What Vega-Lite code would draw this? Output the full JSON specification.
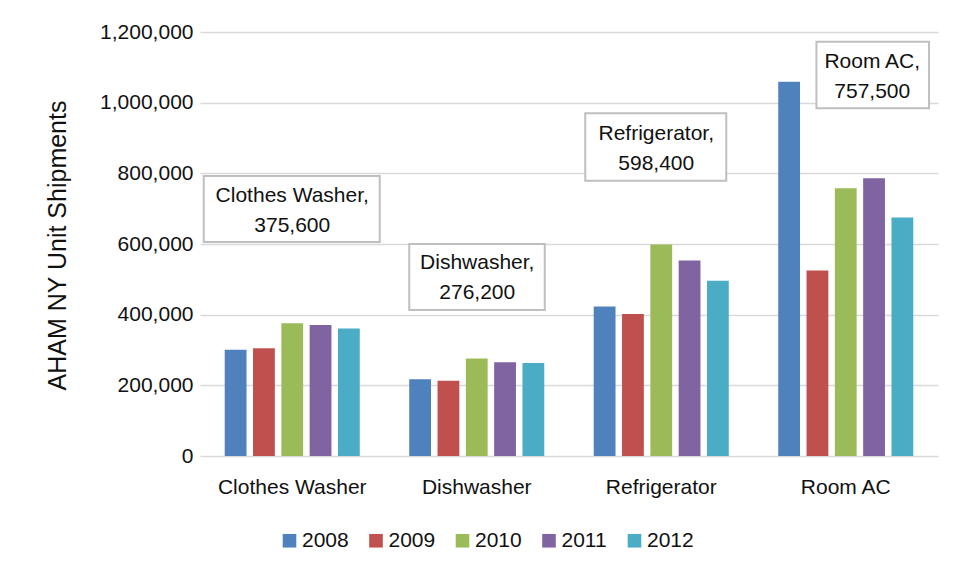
{
  "$schema": "https://vega.github.io/schema/vega-lite/v6.json",
  "width": 738,
  "height": 424,
  "autosize": {"type": "none"},
  "padding": {"left": 200, "top": 32, "right": 18, "bottom": 119},
  "background": "white",
  "config": {
    "font": "Liberation Sans",
    "view": {"stroke": null},
    "axis": {"labelColor": "#111111", "titleColor": "#111111", "labelFont": "Liberation Sans", "titleFont": "Liberation Sans"},
    "legend": {"labelColor": "#111111", "labelFont": "Liberation Sans"}
  },
  "data": {
    "values": [
      {"category": "Clothes Washer", "year": "2008", "value": 301000},
      {"category": "Clothes Washer", "year": "2009", "value": 305000},
      {"category": "Clothes Washer", "year": "2010", "value": 375600},
      {"category": "Clothes Washer", "year": "2011", "value": 371000},
      {"category": "Clothes Washer", "year": "2012", "value": 361000},
      {"category": "Dishwasher", "year": "2008", "value": 217000},
      {"category": "Dishwasher", "year": "2009", "value": 213000},
      {"category": "Dishwasher", "year": "2010", "value": 276200},
      {"category": "Dishwasher", "year": "2011", "value": 265000},
      {"category": "Dishwasher", "year": "2012", "value": 263000},
      {"category": "Refrigerator", "year": "2008", "value": 423000},
      {"category": "Refrigerator", "year": "2009", "value": 402000},
      {"category": "Refrigerator", "year": "2010", "value": 598400},
      {"category": "Refrigerator", "year": "2011", "value": 553000},
      {"category": "Refrigerator", "year": "2012", "value": 496000},
      {"category": "Room AC", "year": "2008", "value": 1059000},
      {"category": "Room AC", "year": "2009", "value": 525000},
      {"category": "Room AC", "year": "2010", "value": 757500},
      {"category": "Room AC", "year": "2011", "value": 786000},
      {"category": "Room AC", "year": "2012", "value": 675000}
    ]
  },
  "encoding": {
    "x": {
      "field": "category", "type": "nominal", "sort": null,
      "scale": {"paddingInner": 0.268, "paddingOuter": 0.134},
      "axis": {"title": null, "labelAngle": 0, "labelFontSize": 21, "labelPadding": 20, "ticks": false, "domain": false, "grid": false}
    },
    "xOffset": {"field": "year", "type": "nominal", "scale": {"paddingInner": 0.23, "paddingOuter": 0}},
    "y": {
      "field": "value", "type": "quantitative",
      "scale": {"domain": [0, 1200000], "nice": false},
      "axis": {
        "title": "AHAM NY Unit Shipments",
        "titleFontSize": 25, "titleFontWeight": "normal",
        "titleX": -143, "titleY": 213, "titleAngle": -90, "titleAlign": "center", "titleBaseline": "middle",
        "values": [0, 200000, 400000, 600000, 800000, 1000000, 1200000],
        "format": ",d", "labelFontSize": 21, "labelPadding": 7,
        "ticks": false, "domain": false,
        "grid": true, "gridColor": "#d9d9d9", "gridWidth": 1.6
      }
    }
  },
  "layer": [
    {
      "mark": {"type": "bar"},
      "encoding": {
        "color": {
          "field": "year", "type": "nominal",
          "scale": {"domain": ["2008", "2009", "2010", "2011", "2012"], "range": ["#4F81BD", "#C0504D", "#9BBB59", "#8064A2", "#4BACC6"]},
          "legend": {
            "title": null, "orient": "none", "direction": "horizontal",
            "legendX": 79, "legendY": 498,
            "symbolType": "square", "symbolSize": 185, "symbolStrokeWidth": 0,
            "labelFontSize": 21, "labelOffset": 2, "columnPadding": 16.5, "padding": 0
          }
        }
      }
    },
    {
      "transform": [{"filter": "datum.year == '2010'"}],
      "mark": {"type": "point", "filled": true, "fill": "white", "stroke": "#bfbfbf", "strokeWidth": 2, "opacity": 1, "size": 4},
      "encoding": {
        "shape": {
          "field": "category", "type": "nominal", "legend": null,
          "scale": {
            "domain": ["Clothes Washer", "Dishwasher", "Refrigerator", "Room AC"],
            "range": [
              "M-88.5,-147.3H87.5V-81.3H-88.5Z",
              "M-67.5,-114.4H68V-48.4H-67.5Z",
              "M-76,-131.3H65V-63.9H-76Z",
              "M-29.3,-146.6H83.3V-80H-29.3Z"
            ]
          }
        }
      }
    },
    {
      "transform": [{"filter": "datum.year == '2010' && datum.category == 'Clothes Washer'"}, {"calculate": "datum.category + ',\\n' + format(datum.value, ',')", "as": "label"}],
      "mark": {"type": "text", "fontSize": 21, "lineBreak": "\n", "lineHeight": 30, "baseline": "middle", "align": "center", "dx": 0, "dy": -127, "color": "#111111"},
      "encoding": {"text": {"field": "label"}}
    },
    {
      "transform": [{"filter": "datum.year == '2010' && datum.category == 'Dishwasher'"}, {"calculate": "datum.category + ',\\n' + format(datum.value, ',')", "as": "label"}],
      "mark": {"type": "text", "fontSize": 21, "lineBreak": "\n", "lineHeight": 30, "baseline": "middle", "align": "center", "dx": 0.5, "dy": -95, "color": "#111111"},
      "encoding": {"text": {"field": "label"}}
    },
    {
      "transform": [{"filter": "datum.year == '2010' && datum.category == 'Refrigerator'"}, {"calculate": "datum.category + ',\\n' + format(datum.value, ',')", "as": "label"}],
      "mark": {"type": "text", "fontSize": 21, "lineBreak": "\n", "lineHeight": 30, "baseline": "middle", "align": "center", "dx": -5, "dy": -111, "color": "#111111"},
      "encoding": {"text": {"field": "label"}}
    },
    {
      "transform": [{"filter": "datum.year == '2010' && datum.category == 'Room AC'"}, {"calculate": "datum.category + ',\\n' + format(datum.value, ',')", "as": "label"}],
      "mark": {"type": "text", "fontSize": 21, "lineBreak": "\n", "lineHeight": 30, "baseline": "middle", "align": "center", "dx": 26.5, "dy": -126.5, "color": "#111111"},
      "encoding": {"text": {"field": "label"}}
    }
  ]
}
